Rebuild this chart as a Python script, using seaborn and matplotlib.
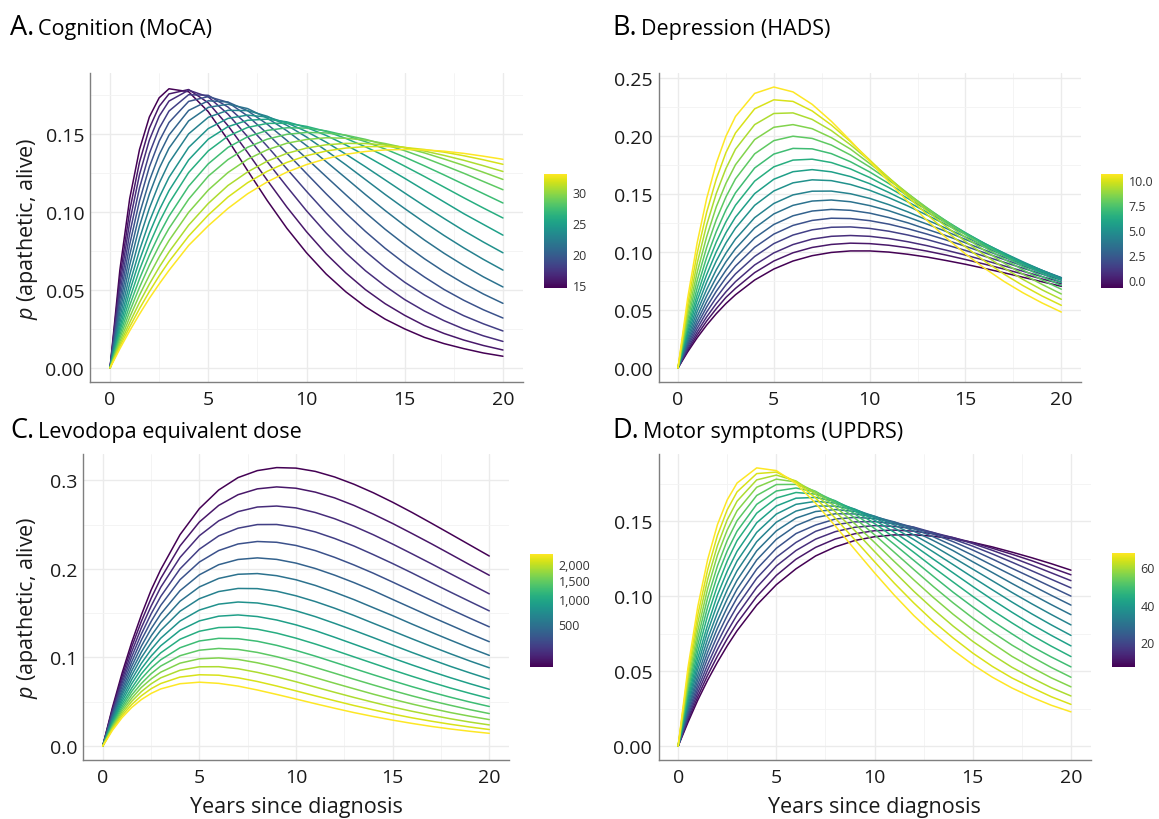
import matplotlib
matplotlib.use('Agg')
import matplotlib.pyplot as plt
import numpy as np
import pandas as pd
import seaborn as sns
from matplotlib import colors as mcolors
from matplotlib.cm import ScalarMappable

# time points the curves were read at
years = [0, 0.5, 1, 1.5, 2, 2.5, 3, 4, 5, 6, 7, 8, 9, 10, 11, 12, 13, 14, 15, 16, 17, 18, 19, 20]

# A. Cognition (MoCA), dark (low score) -> yellow (high score)
moca_levels = [14.6, 15.74, 16.88, 18.01, 19.15, 20.29, 21.43, 22.56, 23.7,
               24.84, 25.98, 27.11, 28.25, 29.39, 30.53, 31.66, 32.8]
moca_p = [
    [0, .0628, .1085, .1400, .1608, .1731, .1789, .1770, .1642, .1462, .1265, .1073, .0895, .0738, .0602, .0488, .0392, .0313, .0250, .0196, .0156, .0124, .0096, .0075],
    [0, .0577, .1008, .1319, .1536, .1676, .1756, .1784, .1699, .1553, .1381, .1203, .1031, .0873, .0731, .0609, .0502, .0412, .0337, .0272, .0221, .0179, .0144, .0115],
    [0, .0529, .0935, .1239, .1460, .1613, .1710, .1780, .1737, .1627, .1482, .1322, .1162, .1007, .0865, .0737, .0623, .0525, .0438, .0365, .0303, .0250, .0206, .0170],
    [0, .0482, .0861, .1154, .1374, .1535, .1646, .1751, .1747, .1672, .1558, .1421, .1276, .1132, .0993, .0864, .0748, .0643, .0549, .0468, .0397, .0335, .0283, .0237],
    [0, .0438, .0791, .1070, .1288, .1453, .1573, .1708, .1739, .1702, .1615, .1503, .1377, .1246, .1116, .0992, .0875, .0767, .0670, .0583, .0503, .0434, .0373, .0320],
    [0, .0397, .0723, .0988, .1199, .1366, .1492, .1650, .1712, .1704, .1648, .1562, .1458, .1343, .1226, .1110, .0996, .0889, .0791, .0700, .0617, .0542, .0474, .0414],
    [0, .0359, .0659, .0909, .1113, .1278, .1408, .1583, .1670, .1690, .1662, .1601, .1520, .1425, .1322, .1217, .1111, .1009, .0912, .0820, .0735, .0657, .0584, .0519],
    [0, .0323, .0596, .0829, .1023, .1183, .1315, .1500, .1606, .1651, .1649, .1613, .1555, .1480, .1393, .1302, .1207, .1112, .1021, .0933, .0849, .0770, .0696, .0627],
    [0, .0290, .0540, .0755, .0938, .1092, .1221, .1413, .1534, .1599, .1620, .1608, .1570, .1515, .1447, .1370, .1289, .1205, .1121, .1038, .0958, .0880, .0807, .0738],
    [0, .0260, .0492, .0690, .0863, .1011, .1136, .1333, .1466, .1546, .1587, .1594, .1577, .1541, .1490, .1429, .1361, .1289, .1215, .1139, .1064, .0989, .0920, .0851],
    [0, .0236, .0444, .0629, .0791, .0933, .1055, .1252, .1391, .1485, .1541, .1567, .1568, .1548, .1516, .1471, .1417, .1358, .1293, .1227, .1159, .1091, .1025, .0961],
    [0, .0212, .0401, .0571, .0722, .0855, .0972, .1164, .1308, .1413, .1481, .1522, .1539, .1537, .1519, .1490, .1450, .1403, .1351, .1295, .1237, .1177, .1117, .1057],
    [0, .0190, .0362, .0517, .0658, .0783, .0894, .1081, .1229, .1335, .1414, .1466, .1497, .1509, .1506, .1492, .1465, .1431, .1392, .1347, .1298, .1248, .1195, .1142],
    [0, .0169, .0325, .0467, .0594, .0711, .0816, .0997, .1140, .1252, .1337, .1398, .1440, .1464, .1475, .1472, .1460, .1438, .1411, .1378, .1339, .1298, .1254, .1208],
    [0, .0152, .0291, .0420, .0537, .0645, .0743, .0915, .1054, .1169, .1256, .1325, .1375, .1409, .1430, .1439, .1438, .1429, .1413, .1390, .1362, .1331, .1296, .1259],
    [0, .0137, .0263, .0380, .0489, .0590, .0682, .0845, .0980, .1095, .1187, .1260, .1317, .1360, .1390, .1409, .1418, .1419, .1413, .1400, .1383, .1360, .1334, .1305],
    [0, .0123, .0238, .0345, .0446, .0538, .0625, .0785, .0911, .1022, .1116, .1192, .1255, .1303, .1341, .1369, .1387, .1397, .1400, .1397, .1389, .1375, .1357, .1337],
]

# B. Depression (HADS)
hads_levels = [-0.8, -0.09, 0.63, 1.34, 2.05, 2.76, 3.48, 4.19, 4.9,
               5.61, 6.33, 7.04, 7.75, 8.46, 9.18, 9.89, 10.6]
hads_p = [
    [0, .0137, .0260, .0370, .0468, .0555, .0631, .0758, .0853, .0922, .0968, .0996, .1009, .1009, .0999, .0980, .0956, .0926, .0894, .0858, .0821, .0782, .0743, .0704],
    [0, .0150, .0284, .0405, .0511, .0608, .0686, .0822, .0922, .0993, .1039, .1065, .1076, .1072, .1058, .1036, .1007, .0973, .0935, .0895, .0853, .0810, .0767, .0725],
    [0, .0164, .0310, .0441, .0555, .0656, .0744, .0888, .0992, .1064, .1111, .1135, .1142, .1135, .1116, .1088, .1054, .1015, .0973, .0928, .0881, .0834, .0787, .0741],
    [0, .0181, .0340, .0483, .0606, .0716, .0811, .0961, .1072, .1146, .1191, .1213, .1216, .1203, .1179, .1146, .1107, .1061, .1013, .0963, .0912, .0860, .0809, .0758],
    [0, .0198, .0372, .0526, .0661, .0778, .0879, .1040, .1154, .1229, .1272, .1291, .1288, .1270, .1240, .1200, .1154, .1103, .1049, .0993, .0936, .0880, .0824, .0770],
    [0, .0216, .0405, .0572, .0717, .0842, .0951, .1121, .1237, .1312, .1353, .1367, .1359, .1335, .1297, .1251, .1195, .1140, .1079, .1017, .0955, .0894, .0834, .0776],
    [0, .0235, .0443, .0623, .0780, .0915, .1028, .1207, .1328, .1402, .1439, .1448, .1433, .1400, .1356, .1300, .1240, .1176, .1108, .1041, .0972, .0906, .0841, .0779],
    [0, .0257, .0486, .0678, .0847, .0989, .1111, .1296, .1418, .1492, .1524, .1525, .1502, .1462, .1408, .1345, .1276, .1203, .1129, .1054, .0983, .0909, .0841, .0775],
    [0, .0284, .0530, .0742, .0923, .1077, .1205, .1402, .1526, .1596, .1622, .1615, .1582, .1532, .1468, .1396, .1317, .1235, .1153, .1071, .0992, .0915, .0841, .0771],
    [0, .0310, .0581, .0806, .1002, .1165, .1300, .1503, .1627, .1692, .1710, .1691, .1650, .1589, .1513, .1431, .1342, .1253, .1163, .1074, .0989, .0907, .0830, .0757],
    [0, .0340, .0630, .0878, .1086, .1260, .1403, .1611, .1734, .1792, .1800, .1771, .1716, .1642, .1555, .1461, .1363, .1264, .1166, .1071, .0980, .0893, .0813, .0736],
    [0, .0372, .0688, .0955, .1176, .1362, .1510, .1724, .1844, .1893, .1889, .1848, .1778, .1690, .1590, .1484, .1376, .1267, .1161, .1060, .0966, .0873, .0788, .0711],
    [0, .0409, .0753, .1041, .1279, .1474, .1630, .1846, .1960, .1998, .1979, .1922, .1836, .1733, .1619, .1501, .1380, .1263, .1149, .1041, .0940, .0845, .0758, .0679],
    [0, .0448, .0823, .1133, .1390, .1591, .1752, .1969, .2075, .2098, .2063, .1986, .1887, .1763, .1635, .1504, .1374, .1245, .1125, .1012, .0905, .0808, .0720, .0638],
    [0, .0493, .0901, .1235, .1505, .1719, .1886, .2098, .2194, .2199, .2143, .2047, .1924, .1786, .1641, .1495, .1354, .1218, .1090, .0972, .0863, .0763, .0673, .0592],
    [0, .0542, .0987, .1344, .1630, .1856, .2026, .2234, .2312, .2298, .2216, .2095, .1951, .1794, .1633, .1475, .1323, .1178, .1044, .0921, .0810, .0710, .0620, .0540],
    [0, .0596, .1078, .1463, .1765, .1997, .2168, .2367, .2422, .2380, .2273, .2127, .1959, .1782, .1605, .1433, .1271, .1121, .0983, .0859, .0747, .0648, .0560, .0482],
]

# C. Levodopa equivalent dose (colour bar on a sqrt scale)
ledd_levels = [40, 80, 134, 202, 284, 380, 490, 613, 751,
               902, 1067, 1246, 1439, 1646, 1867, 2102, 2350]
ledd_p = [
    [0, .0434, .0823, .1171, .1480, .1759, .1992, .2386, .2680, .2890, .3030, .3109, .3143, .3137, .3100, .3037, .2955, .2859, .2752, .2637, .2516, .2393, .2269, .2145],
    [0, .0415, .0785, .1120, .1408, .1666, .1891, .2259, .2529, .2716, .2837, .2903, .2925, .2910, .2866, .2801, .2716, .2618, .2512, .2399, .2284, .2165, .2045, .1928],
    [0, .0396, .0747, .1064, .1336, .1578, .1792, .2129, .2374, .2542, .2646, .2698, .2709, .2688, .2636, .2566, .2481, .2385, .2280, .2170, .2058, .1944, .1831, .1718],
    [0, .0378, .0711, .1008, .1265, .1491, .1688, .2000, .2222, .2372, .2459, .2500, .2501, .2470, .2417, .2343, .2258, .2161, .2060, .1954, .1845, .1737, .1631, .1526],
    [0, .0359, .0675, .0952, .1197, .1405, .1588, .1878, .2077, .2207, .2281, .2309, .2300, .2264, .2206, .2130, .2044, .1951, .1851, .1749, .1646, .1543, .1443, .1346],
    [0, .0340, .0637, .0900, .1128, .1323, .1490, .1754, .1933, .2047, .2106, .2124, .2107, .2065, .2004, .1929, .1845, .1754, .1655, .1557, .1459, .1364, .1269, .1178],
    [0, .0321, .0603, .0849, .1061, .1242, .1395, .1635, .1796, .1892, .1939, .1947, .1923, .1877, .1813, .1736, .1653, .1562, .1472, .1377, .1285, .1195, .1107, .1024],
    [0, .0303, .0572, .0799, .1000, .1164, .1306, .1522, .1663, .1744, .1779, .1777, .1748, .1696, .1631, .1556, .1474, .1386, .1299, .1211, .1125, .1041, .0960, .0884],
    [0, .0288, .0537, .0751, .0934, .1088, .1217, .1411, .1535, .1602, .1626, .1615, .1580, .1527, .1461, .1385, .1306, .1224, .1140, .1057, .0977, .0899, .0826, .0756],
    [0, .0272, .0505, .0704, .0873, .1015, .1132, .1307, .1413, .1466, .1480, .1462, .1423, .1368, .1303, .1228, .1150, .1072, .0993, .0916, .0842, .0771, .0704, .0641],
    [0, .0256, .0474, .0655, .0816, .0945, .1052, .1206, .1296, .1338, .1342, .1319, .1275, .1218, .1152, .1081, .1007, .0933, .0859, .0788, .0720, .0655, .0595, .0538],
    [0, .0241, .0444, .0617, .0760, .0879, .0974, .1110, .1186, .1216, .1212, .1183, .1137, .1080, .1015, .0945, .0875, .0805, .0737, .0671, .0609, .0551, .0497, .0447],
    [0, .0226, .0418, .0577, .0707, .0816, .0903, .1020, .1082, .1102, .1091, .1057, .1009, .0952, .0888, .0822, .0755, .0690, .0627, .0567, .0511, .0460, .0411, .0367],
    [0, .0214, .0393, .0540, .0662, .0757, .0834, .0936, .0985, .0995, .0978, .0940, .0891, .0834, .0772, .0709, .0647, .0586, .0529, .0475, .0425, .0378, .0337, .0299],
    [0, .0202, .0368, .0505, .0615, .0702, .0770, .0856, .0895, .0896, .0873, .0832, .0782, .0726, .0666, .0607, .0549, .0494, .0441, .0393, .0349, .0308, .0271, .0239],
    [0, .0189, .0344, .0469, .0568, .0647, .0706, .0779, .0805, .0800, .0771, .0729, .0678, .0623, .0567, .0512, .0458, .0409, .0362, .0319, .0281, .0246, .0215, .0187],
    [0, .0177, .0321, .0436, .0525, .0594, .0645, .0704, .0721, .0708, .0677, .0633, .0583, .0531, .0478, .0427, .0378, .0334, .0293, .0256, .0222, .0193, .0167, .0144],
]

# D. Motor symptoms (UPDRS)
updrs_levels = [6.7, 10.5, 14.3, 18.1, 21.9, 25.7, 29.5, 33.3, 37.1,
                40.9, 44.7, 48.5, 52.3, 56.1, 59.9, 63.7, 67.5]
updrs_p = [
    [0, .0158, .0306, .0439, .0559, .0669, .0769, .0940, .1076, .1182, .1268, .1328, .1371, .1396, .1408, .1409, .1399, .1382, .1358, .1328, .1293, .1256, .1216, .1173],
    [0, .0172, .0329, .0472, .0600, .0716, .0821, .0997, .1138, .1246, .1325, .1381, .1416, .1436, .1440, .1433, .1415, .1390, .1357, .1319, .1279, .1236, .1189, .1142],
    [0, .0186, .0355, .0507, .0644, .0764, .0875, .1058, .1201, .1304, .1380, .1430, .1459, .1470, .1465, .1450, .1423, .1390, .1350, .1305, .1257, .1207, .1155, .1103],
    [0, .0201, .0382, .0543, .0689, .0818, .0932, .1119, .1259, .1358, .1432, .1476, .1495, .1497, .1483, .1460, .1423, .1380, .1333, .1281, .1226, .1169, .1112, .1055],
    [0, .0217, .0410, .0585, .0736, .0871, .0989, .1180, .1319, .1417, .1474, .1514, .1525, .1517, .1493, .1458, .1413, .1363, .1307, .1247, .1185, .1124, .1062, .1000],
    [0, .0235, .0441, .0625, .0786, .0925, .1047, .1241, .1379, .1470, .1524, .1549, .1548, .1529, .1495, .1449, .1395, .1336, .1272, .1205, .1139, .1072, .1005, .0940],
    [0, .0252, .0473, .0668, .0837, .0982, .1106, .1302, .1435, .1520, .1564, .1577, .1565, .1533, .1488, .1433, .1370, .1303, .1229, .1157, .1084, .1013, .0943, .0876],
    [0, .0272, .0510, .0714, .0889, .1042, .1169, .1363, .1493, .1567, .1601, .1600, .1576, .1532, .1475, .1408, .1335, .1258, .1180, .1102, .1024, .0949, .0877, .0808],
    [0, .0293, .0546, .0763, .0948, .1102, .1234, .1425, .1547, .1612, .1632, .1620, .1580, .1523, .1454, .1377, .1294, .1210, .1125, .1042, .0960, .0882, .0808, .0738],
    [0, .0316, .0585, .0809, .1007, .1167, .1299, .1489, .1601, .1653, .1658, .1631, .1577, .1507, .1426, .1338, .1246, .1155, .1064, .0976, .0892, .0812, .0738, .0668],
    [0, .0340, .0628, .0870, .1069, .1235, .1370, .1553, .1654, .1691, .1680, .1636, .1567, .1484, .1391, .1292, .1191, .1094, .0998, .0906, .0821, .0740, .0666, .0597],
    [0, .0366, .0674, .0927, .1137, .1302, .1433, .1612, .1701, .1721, .1694, .1632, .1548, .1451, .1346, .1238, .1131, .1026, .0928, .0834, .0748, .0665, .0594, .0528],
    [0, .0392, .0720, .0987, .1201, .1372, .1503, .1671, .1744, .1745, .1699, .1620, .1520, .1409, .1293, .1177, .1063, .0955, .0854, .0760, .0673, .0596, .0524, .0459],
    [0, .0422, .0768, .1048, .1272, .1441, .1569, .1726, .1780, .1761, .1694, .1597, .1482, .1358, .1231, .1108, .0990, .0879, .0777, .0686, .0598, .0524, .0455, .0395],
    [0, .0455, .0821, .1110, .1336, .1509, .1633, .1775, .1807, .1768, .1679, .1563, .1436, .1297, .1162, .1032, .0912, .0800, .0698, .0608, .0525, .0454, .0389, .0334],
    [0, .0487, .0874, .1174, .1404, .1576, .1695, .1817, .1827, .1762, .1654, .1520, .1375, .1229, .1087, .0954, .0831, .0721, .0620, .0531, .0454, .0390, .0329, .0278],
    [0, .0522, .0930, .1242, .1476, .1642, .1754, .1855, .1837, .1750, .1619, .1468, .1310, .1155, .1007, .0870, .0749, .0640, .0543, .0459, .0387, .0326, .0272, .0228],
]

W, H = 1159, 820
GRID = '#ebebeb'
AXIS = '#7f7f7f'
TEXT = '#1a1a1a'


def rect(l, t, r, b):
    # pixel box -> figure fraction
    return [l / W, 1 - b / H, (r - l) / W, (b - t) / H]


def long_table(levels, curves):
    rows = []
    for level, curve in zip(levels, curves):
        for t, p in zip(years, curve):
            rows.append({'years': t, 'p': p, 'level': level})
    return pd.DataFrame(rows)


def draw_panel(fig, box, levels, curves, norm, ylim, yticks, yfmt, yminor):
    ax = fig.add_axes(rect(*box))
    df = long_table(levels, curves)
    sns.lineplot(data=df, x='years', y='p', hue='level', palette='viridis', hue_norm=norm,
                 estimator=None, legend=False, linewidth=1.1, ax=ax)
    ax.set_xlim(-1, 21)
    ax.set_ylim(*ylim)
    ax.set_xticks([0, 5, 10, 15, 20])
    ax.set_xticks([2.5, 7.5, 12.5, 17.5], minor=True)
    ax.set_yticks(yticks)
    ax.set_yticklabels([yfmt.format(v) for v in yticks])
    ax.set_yticks(yminor, minor=True)
    ax.grid(which='major', color=GRID, linewidth=1.0)
    ax.grid(which='minor', color='#f3f3f3', linewidth=0.6)
    ax.set_axisbelow(True)
    for side in ['top', 'right']:
        ax.spines[side].set_visible(False)
    for side in ['left', 'bottom']:
        ax.spines[side].set_color(AXIS)
        ax.spines[side].set_linewidth(1.0)
    ax.tick_params(which='major', length=3, width=1.0, color=AXIS, labelsize=14,
                   labelcolor=TEXT)
    ax.tick_params(axis='y', pad=1.5)
    ax.tick_params(axis='x', pad=3)
    ax.tick_params(which='minor', length=0)
    ax.set_xlabel('')
    ax.set_ylabel('')
    return ax


def draw_colorbar(fig, box, norm, ticks, labels):
    cax = fig.add_axes(rect(*box))
    cb = fig.colorbar(ScalarMappable(norm=norm, cmap='viridis'), cax=cax)
    cb.outline.set_visible(False)
    cb.set_ticks(ticks)
    cb.set_ticklabels(labels)
    cax.minorticks_off()
    cax.tick_params(direction='in', length=3.3, width=0.8, color='white', left=True, right=True,
                    labelsize=9, labelcolor='#333333', pad=4)
    return cb


def draw_title(fig, x, y, letter, text):
    t = fig.text(x / W, 1 - y / H, letter, fontsize=19.5, va='baseline', ha='left', color='black')
    bb = t.get_window_extent(renderer=fig.canvas.get_renderer())
    fig.text((bb.x1 + 4) / W, 1 - y / H, text, fontsize=15.5, va='baseline', ha='left', color='black')


sns.set_theme(style='white')
plt.rcParams['font.family'] = ['Open Sans', 'DejaVu Sans']
plt.rcParams['mathtext.fontset'] = 'custom'
plt.rcParams['mathtext.it'] = 'Open Sans:italic'
plt.rcParams['mathtext.rm'] = 'Open Sans'

fig = plt.figure(figsize=(W / 100, H / 100), dpi=100)
fig.patch.set_facecolor('white')

moca_norm = mcolors.Normalize(14.6, 32.8)
hads_norm = mcolors.Normalize(-0.8, 10.6)
ledd_norm = mcolors.FuncNorm((np.sqrt, np.square), vmin=40, vmax=2350)
updrs_norm = mcolors.Normalize(6.7, 67.5)

draw_panel(fig, (90.4, 74, 522.6, 383), moca_levels, moca_p, moca_norm, (-0.009, 0.189),
           [0, 0.05, 0.10, 0.15], '{:.2f}', [0.025, 0.075, 0.125, 0.175])
draw_panel(fig, (658.8, 74, 1080.5, 383), hads_levels, hads_p, hads_norm, (-0.0121, 0.2543),
           [0, 0.05, 0.10, 0.15, 0.20, 0.25], '{:.2f}', [0.025, 0.075, 0.125, 0.175, 0.225])
draw_panel(fig, (83.4, 454.5, 508.6, 761), ledd_levels, ledd_p, ledd_norm, (-0.0157, 0.3302),
           [0, 0.1, 0.2, 0.3], '{:.1f}', [0.05, 0.15, 0.25])
draw_panel(fig, (658.5, 454.5, 1090.6, 761), updrs_levels, updrs_p, updrs_norm, (-0.0093, 0.1951),
           [0, 0.05, 0.10, 0.15], '{:.2f}', [0.025, 0.075, 0.125, 0.175])

draw_colorbar(fig, (544, 175, 567, 289), moca_norm, [15, 20, 25, 30], ['15', '20', '25', '30'])
draw_colorbar(fig, (1101, 175, 1123, 289), hads_norm, [0, 2.5, 5, 7.5, 10],
              ['0.0', '2.5', '5.0', '7.5', '10.0'])
draw_colorbar(fig, (530, 555, 553, 668), ledd_norm, [500, 1000, 1500, 2000],
              ['500', '1,000', '1,500', '2,000'])
draw_colorbar(fig, (1112, 554, 1135, 668), updrs_norm, [20, 40, 60], ['20', '40', '60'])

draw_title(fig, 10, 35, 'A.', 'Cognition (MoCA)')
draw_title(fig, 612, 35, 'B.', 'Depression (HADS)')
draw_title(fig, 10, 438, 'C.', 'Levodopa equivalent dose')
draw_title(fig, 612, 438.5, 'D.', 'Motor symptoms (UPDRS)')

for yc in [228.5, 607.5]:
    fig.text(27.5 / W, 1 - yc / H, r'$p$ (apathetic, alive)', rotation=90, ha='center', va='center',
             fontsize=15.5, color=TEXT)
for xc in [296, 874.5]:
    fig.text(xc / W, 1 - 813 / H, 'Years since diagnosis', ha='center', va='baseline',
             fontsize=15.5, color=TEXT)

fig.savefig('out.png', dpi=100)
plt.close(fig)
